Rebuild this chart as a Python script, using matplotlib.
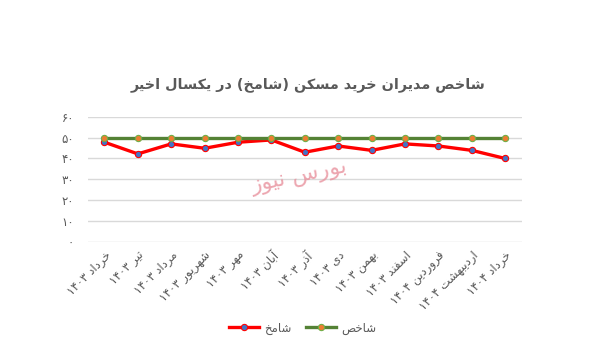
import matplotlib
matplotlib.use("Agg")
import matplotlib.pyplot as plt

# --- data ---
months = ["خرداد ۱۴۰۳", "تیر ۱۴۰۳", "مرداد ۱۴۰۳", "شهریور ۱۴۰۳", "مهر ۱۴۰۳",
          "آبان ۱۴۰۳", "آذر ۱۴۰۳", "دی ۱۴۰۳", "بهمن ۱۴۰۳", "اسفند ۱۴۰۳",
          "فروردین ۱۴۰۴", "اردیبهشت ۱۴۰۴", "خرداد ۱۴۰۴"]
shamekh = [47.8, 42.2, 47.0, 44.9, 47.8, 48.9, 43.0, 46.0, 43.9, 47.0, 46.0, 43.9, 40.0]
shakhes = [50] * 13
yticks = [0, 10, 20, 30, 40, 50, 60]
title = "شاخص مدیران خرید مسکن (شامخ) در یکسال اخیر"
name_red = "شامخ"
name_green = "شاخص"
watermark = "بورس نیوز"

# --- minimal arabic/persian shaping (matplotlib has no bidi) ---
# letter: (isolated, final, initial, medial); 2-tuple = joins only to the right
FORMS = {
    'ا': (0xFE8D, 0xFE8E), 'آ': (0xFE81, 0xFE82),
    'ب': (0xFE8F, 0xFE90, 0xFE91, 0xFE92), 'ت': (0xFE95, 0xFE96, 0xFE97, 0xFE98),
    'ث': (0xFE99, 0xFE9A, 0xFE9B, 0xFE9C), 'ج': (0xFE9D, 0xFE9E, 0xFE9F, 0xFEA0),
    'ح': (0xFEA1, 0xFEA2, 0xFEA3, 0xFEA4), 'خ': (0xFEA5, 0xFEA6, 0xFEA7, 0xFEA8),
    'د': (0xFEA9, 0xFEAA), 'ذ': (0xFEAB, 0xFEAC), 'ر': (0xFEAD, 0xFEAE), 'ز': (0xFEAF, 0xFEB0),
    'س': (0xFEB1, 0xFEB2, 0xFEB3, 0xFEB4), 'ش': (0xFEB5, 0xFEB6, 0xFEB7, 0xFEB8),
    'ص': (0xFEB9, 0xFEBA, 0xFEBB, 0xFEBC), 'ض': (0xFEBD, 0xFEBE, 0xFEBF, 0xFEC0),
    'ط': (0xFEC1, 0xFEC2, 0xFEC3, 0xFEC4), 'ظ': (0xFEC5, 0xFEC6, 0xFEC7, 0xFEC8),
    'ع': (0xFEC9, 0xFECA, 0xFECB, 0xFECC), 'غ': (0xFECD, 0xFECE, 0xFECF, 0xFED0),
    'ف': (0xFED1, 0xFED2, 0xFED3, 0xFED4), 'ق': (0xFED5, 0xFED6, 0xFED7, 0xFED8),
    'ل': (0xFEDD, 0xFEDE, 0xFEDF, 0xFEE0), 'م': (0xFEE1, 0xFEE2, 0xFEE3, 0xFEE4),
    'ن': (0xFEE5, 0xFEE6, 0xFEE7, 0xFEE8), 'ه': (0xFEE9, 0xFEEA, 0xFEEB, 0xFEEC),
    'و': (0xFEED, 0xFEEE),
    'پ': (0xFB56, 0xFB57, 0xFB58, 0xFB59), 'چ': (0xFB7A, 0xFB7B, 0xFB7C, 0xFB7D),
    'ژ': (0xFB8A, 0xFB8B), 'ک': (0xFB8E, 0xFB8F, 0xFB90, 0xFB91),
    'گ': (0xFB92, 0xFB93, 0xFB94, 0xFB95), 'ی': (0xFBFC, 0xFBFD, 0xFBFE, 0xFBFF),
}
MIRROR = {'(': ')', ')': '('}


def shape(text):
    out = []
    n = len(text)
    for i, ch in enumerate(text):
        f = FORMS.get(ch)
        if f is None:
            out.append(ch)
            continue
        prev = text[i - 1] if i > 0 else ''
        nxt = text[i + 1] if i < n - 1 else ''
        join_prev = prev in FORMS and len(FORMS[prev]) == 4
        join_next = len(f) == 4 and nxt in FORMS
        if join_prev and join_next:
            code = f[3]
        elif join_prev:
            code = f[1]
        elif join_next:
            code = f[2]
        else:
            code = f[0]
        out.append(chr(code))
    s = ''.join(out)[::-1]
    s = ''.join(MIRROR.get(c, c) for c in s)
    # keep digit runs left-to-right
    res, run = [], []
    for c in s:
        if c.isdigit():
            run.append(c)
        else:
            res.extend(run[::-1])
            run = []
            res.append(c)
    res.extend(run[::-1])
    return ''.join(res)


def fa_num(v):
    return ''.join(chr(0x06F0 + int(d)) for d in str(v))


plt.rcParams['font.family'] = ['DejaVu Sans']

fig = plt.figure(figsize=(5.93, 3.54), dpi=100)
ax = fig.add_axes([0.148, 0.317, 0.732, 0.353])

x = list(range(len(months)))
ax.plot(x, shamekh, color='#FF0000', lw=2.4, marker='o', ms=4.5,
        mfc='#4472C4', mec='#FF0000', mew=0.8, label=shape(name_red), zorder=3)
ax.plot(x, shakhes, color='#548235', lw=2.4, marker='o', ms=4.5,
        mfc='#ED7D31', mec='#70AD47', mew=0.8, label=shape(name_green), zorder=4)

ax.set_xlim(-0.5, len(months) - 0.5)
ax.set_ylim(0, 60)
ax.set_yticks(yticks)
ax.set_yticklabels([fa_num(v) for v in yticks], color='#595959', fontsize=8.5)
ax.set_xticks(x)
ax.set_xticklabels([shape(m) for m in months], rotation=45, ha='right',
                   rotation_mode='anchor', color='#595959', fontsize=8.5)
ax.tick_params(axis='y', length=0, pad=10)
ax.tick_params(axis='x', length=0, pad=5)
ax.grid(axis='y', color='#D9D9D9', lw=1)
ax.set_axisbelow(True)
for sp in ax.spines.values():
    sp.set_visible(False)

fig.text(0.52, 0.76, shape(title), ha='center', va='center',
         fontsize=10.4, color='#595959', fontweight='bold')

fig.text(0.505, 0.5, shape(watermark), ha='center', va='center', fontsize=16,
         color='#E8909C', alpha=0.8, rotation=12)

ax.legend(loc='center', bbox_to_anchor=(0.51, 0.073), bbox_transform=fig.transFigure,
          ncol=2, frameon=False, fontsize=8.5, labelcolor='#595959',
          handlelength=2.6, columnspacing=1.2, handletextpad=0.4)

fig.savefig('out.png', dpi=100, facecolor='white')
